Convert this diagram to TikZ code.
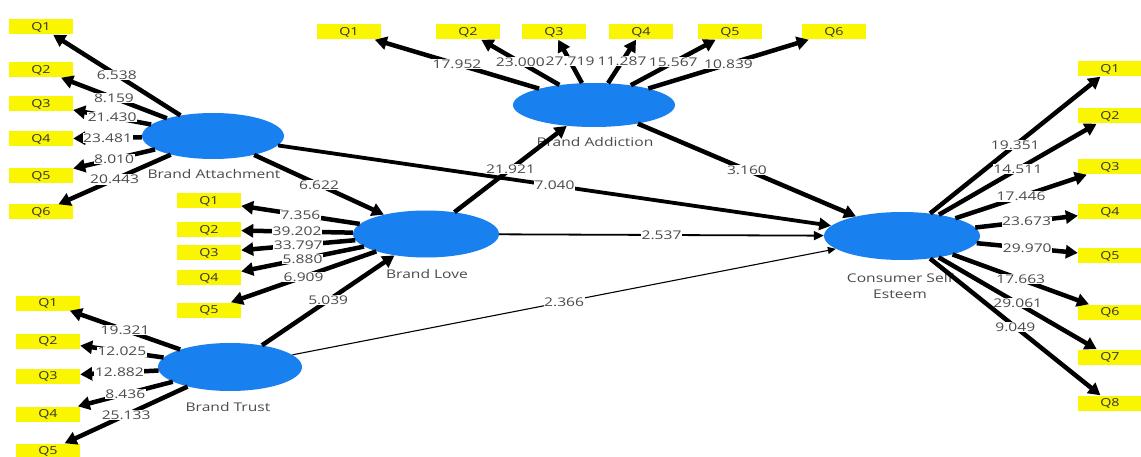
\documentclass[tikz,border=0pt]{standalone}
\usepackage{fontspec}
\setmainfont{Open Sans}
\newfontfamily\lblfont[FakeStretch=1.3]{Open Sans}
\usetikzlibrary{shapes.geometric,arrows.meta}
\definecolor{lvblue}{RGB}{25,128,240}
\definecolor{qyellow}{RGB}{250,245,0}
\definecolor{numgray}{RGB}{75,75,75}
\begin{document}
\begin{tikzpicture}[x=1pt,y=-1pt,
 lv/.style={ellipse,fill=lvblue,draw=none,inner sep=0pt},
 ind/.style={rectangle,fill=qyellow,minimum width=64pt,minimum height=15pt,inner sep=0pt,font=\lblfont\fontsize{11}{11}\selectfont,text=black!80},
 lvname/.style={font=\lblfont\fontsize{12}{16}\selectfont,text=numgray,align=center},
 load/.style={line width=4.5pt,-{Triangle[length=12pt,width=13pt]}},
 pathbig/.style={line width=4.5pt,-{Triangle[length=12pt,width=13pt]}},
 pathmid/.style={line width=3.8pt,-{Triangle[length=12pt,width=12pt]}},
 paththin/.style={line width=1.8pt,-{Triangle[length=10pt,width=9pt]}},
 pathhair/.style={line width=1.1pt,-{Triangle[length=8pt,width=7pt]}},
 num/.style={fill=white,inner sep=0.6pt,font=\lblfont\fontsize{12}{12}\selectfont,text=numgray},
]
\useasboundingbox[fill=white] (0,0) rectangle (1141,457);

% latent variables
\node[lv,minimum width=142pt,minimum height=46pt] (BA) at (213,136) {};
\node[lv,minimum width=162pt,minimum height=44pt] (BAd) at (594,105) {};
\node[lv,minimum width=146pt,minimum height=47pt] (BL) at (426,234) {};
\node[lv,minimum width=144pt,minimum height=48pt] (BT) at (230,367) {};
\node[lv,minimum width=156pt,minimum height=48pt] (CSE) at (902,236) {};

\node[lvname] (BAn) at (214,174) {Brand Attachment};
\node[lvname] (BAdn) at (595,142) {Brand Addiction};
\node[lvname] (BLn) at (427,274) {Brand Love};
\node[lvname] (BTn) at (228,407) {Brand Trust};
\node[lvname] (CSEn) at (900,286) {Consumer Self\\Esteem};

% indicators: Brand Attachment
\node[ind] (ba1) at (41,27) {Q1};
\node[ind] (ba2) at (41,70) {Q2};
\node[ind] (ba3) at (41,104) {Q3};
\node[ind] (ba4) at (41,139) {Q4};
\node[ind] (ba5) at (41,176) {Q5};
\node[ind] (ba6) at (41,212) {Q6};
% Brand Love
\node[ind] (bl1) at (209,201) {Q1};
\node[ind] (bl2) at (209,230) {Q2};
\node[ind] (bl3) at (209,253) {Q3};
\node[ind] (bl4) at (209,278) {Q4};
\node[ind] (bl5) at (209,310) {Q5};
% Brand Trust
\node[ind] (bt1) at (48,303) {Q1};
\node[ind] (bt2) at (48,341) {Q2};
\node[ind] (bt3) at (48,376) {Q3};
\node[ind] (bt4) at (48,414) {Q4};
\node[ind] (bt5) at (48,451) {Q5};
% Brand Addiction
\node[ind] (bd1) at (349,32) {Q1};
\node[ind] (bd2) at (468,32) {Q2};
\node[ind] (bd3) at (554,32) {Q3};
\node[ind] (bd4) at (641,32) {Q4};
\node[ind] (bd5) at (730,32) {Q5};
\node[ind] (bd6) at (834,32) {Q6};
% Consumer Self Esteem
\node[ind] (cs1) at (1110,69) {Q1};
\node[ind] (cs2) at (1110,116) {Q2};
\node[ind] (cs3) at (1110,167) {Q3};
\node[ind] (cs4) at (1110,212) {Q4};
\node[ind] (cs5) at (1110,256) {Q5};
\node[ind] (cs6) at (1110,312) {Q6};
\node[ind] (cs7) at (1110,357) {Q7};
\node[ind] (cs8) at (1110,403) {Q8};

% structural paths
\draw[pathbig] (BA) -- node[num]{6.622} (BL);
\draw[pathmid] (BA) -- node[num]{7.040} (CSE);
\draw[pathbig] (BL) -- node[num]{21.921} (BAd);
\draw[pathbig] (BAd) -- node[num]{3.160} (CSE);
\draw[paththin] (BL) -- node[num]{2.537} (CSE);
\draw[pathhair] (BT) -- node[num]{2.366} (CSE);
\draw[pathbig] (BT) -- node[num]{5.039} (BL);

% loadings: Brand Attachment
\draw[load] (BA) -- node[num]{6.538} (ba1);
\draw[load] (BA) -- node[num]{8.159} (ba2);
\draw[load] (BA) -- node[num]{21.430} (ba3);
\draw[load] (BA) -- node[num]{23.481} (ba4);
\draw[load] (BA) -- node[num]{8.010} (ba5);
\draw[load] (BA) -- node[num]{20.443} (ba6);
% Brand Love
\draw[load] (BL) -- node[num]{7.356} (bl1);
\draw[load] (BL) -- node[num]{39.202} (bl2);
\draw[load] (BL) -- node[num]{33.797} (bl3);
\draw[load] (BL) -- node[num]{5.880} (bl4);
\draw[load] (BL) -- node[num]{6.909} (bl5);
% Brand Trust
\draw[load] (BT) -- node[num]{19.321} (bt1);
\draw[load] (BT) -- node[num]{12.025} (bt2);
\draw[load] (BT) -- node[num]{12.882} (bt3);
\draw[load] (BT) -- node[num]{8.436} (bt4);
\draw[load] (BT) -- node[num]{25.133} (bt5);
% Brand Addiction
\draw[load] (BAd) -- node[num]{17.952} (bd1);
\draw[load] (BAd) -- node[num]{23.000} (bd2);
\draw[load] (BAd) -- node[num]{27.719} (bd3);
\draw[load] (BAd) -- node[num]{11.287} (bd4);
\draw[load] (BAd) -- node[num]{15.567} (bd5);
\draw[load] (BAd) -- node[num]{10.839} (bd6);
% Consumer Self Esteem
\draw[load] (CSE) -- node[num]{19.351} (cs1);
\draw[load] (CSE) -- node[num]{14.511} (cs2);
\draw[load] (CSE) -- node[num]{17.446} (cs3);
\draw[load] (CSE) -- node[num]{23.673} (cs4);
\draw[load] (CSE) -- node[num]{29.970} (cs5);
\draw[load] (CSE) -- node[num]{17.663} (cs6);
\draw[load] (CSE) -- node[num]{29.061} (cs7);
\draw[load] (CSE) -- node[num]{9.049} (cs8);
\end{tikzpicture}
\end{document}
